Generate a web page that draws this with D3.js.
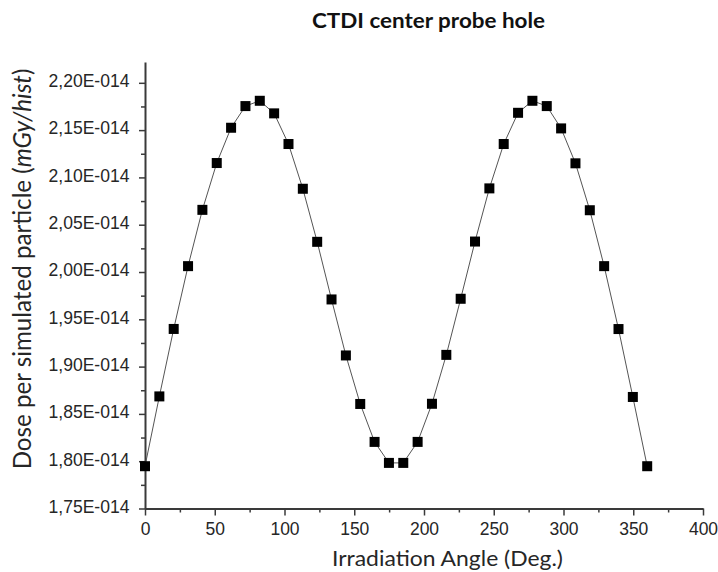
<!DOCTYPE html>
<html>
<head>
<meta charset="utf-8">
<script src="https://cdn.jsdelivr.net/npm/d3@7"></script>
<style>
  html, body { margin: 0; padding: 0; background: #fff; }
  svg { display: block; }
</style>
</head>
<body>
<svg id="chart" width="718" height="572"></svg>
<script>
// Irradiation angles (degrees) for the 36 simulated projections
const angles = [0, 10.29, 20.57, 30.86, 41.14, 51.43, 61.71, 72.00, 82.29, 92.57,
  102.86, 113.14, 123.43, 133.71, 144.00, 154.29, 164.57, 174.86, 185.14, 195.43,
  205.71, 216.00, 226.29, 236.57, 246.86, 257.14, 267.43, 277.71, 288.00, 298.29,
  308.57, 318.86, 329.14, 339.43, 349.71, 360];

// Dose per simulated particle at the CTDI center probe hole (mGy/hist)
const dose = [1.7947e-14, 1.8685e-14, 1.9398e-14, 2.0062e-14, 2.0657e-14, 2.1152e-14,
  2.1525e-14, 2.1754e-14, 2.1810e-14, 2.1677e-14, 2.1353e-14, 2.0880e-14, 2.0319e-14,
  1.9710e-14, 1.9118e-14, 1.8605e-14, 1.8204e-14, 1.7982e-14, 1.7982e-14, 1.8204e-14,
  1.8607e-14, 1.9124e-14, 1.9717e-14, 2.0322e-14, 2.0884e-14, 2.1353e-14, 2.1683e-14,
  2.1810e-14, 2.1754e-14, 2.1518e-14, 2.1149e-14, 2.0653e-14, 2.0062e-14, 1.9397e-14,
  1.8679e-14, 1.7947e-14];

// Axis ticks
const xTicks = [0, 50, 100, 150, 200, 250, 300, 350, 400];
const xMinorTicks = [25, 75, 125, 175, 225, 275, 325, 375];
const yTicks = [1.75e-14, 1.80e-14, 1.85e-14, 1.90e-14, 1.95e-14, 2.00e-14, 2.05e-14, 2.10e-14, 2.15e-14, 2.20e-14];
const yMinorTicks = [1.775e-14, 1.825e-14, 1.875e-14, 1.925e-14, 1.975e-14, 2.025e-14, 2.075e-14, 2.125e-14, 2.175e-14];

const titleText = "CTDI center probe hole";
const xTitleText = "Irradiation Angle (Deg.)";

const svg = d3.select("#chart");
const axisColor = "#3a3a3a";
const textColor = "#262626";

const x = d3.scaleLinear().domain([0, 400]).range([145, 703]);
const y = d3.scaleLinear().domain([1.75e-14, 2.222e-14]).range([508.5, 62]);

const fmt = d => (d / 1e-14).toFixed(2).replace(".", ",") + "E-014";

// Minor ticks
svg.append("g")
  .attr("transform", `translate(0,${y.range()[0]})`)
  .call(d3.axisBottom(x).tickValues(xMinorTicks).tickSize(4).tickFormat(""))
  .call(g => g.select(".domain").remove())
  .call(g => g.selectAll("line").attr("stroke", axisColor).attr("stroke-width", 1.5));

svg.append("g")
  .attr("transform", `translate(${x.range()[0]},0)`)
  .call(d3.axisLeft(y).tickValues(yMinorTicks).tickSize(4).tickFormat(""))
  .call(g => g.select(".domain").remove())
  .call(g => g.selectAll("line").attr("stroke", axisColor).attr("stroke-width", 1.5));

// Major x axis
const gx = svg.append("g")
  .attr("transform", `translate(0,${y.range()[0]})`)
  .call(d3.axisBottom(x).tickValues(xTicks).tickSize(7).tickPadding(7).tickSizeOuter(0).tickFormat(d3.format("d")));
gx.select(".domain").attr("stroke", axisColor).attr("stroke-width", 2);
gx.selectAll("line").attr("stroke", axisColor).attr("stroke-width", 1.5);
gx.selectAll("text")
  .attr("fill", textColor)
  .style("font-family", "'Liberation Sans', Arial, sans-serif")
  .style("font-size", "17.5px");

// Major y axis
const gy = svg.append("g")
  .attr("transform", `translate(${x.range()[0]},0)`)
  .call(d3.axisLeft(y).tickValues(yTicks).tickSize(6).tickPadding(9.5).tickSizeOuter(0).tickFormat(fmt));
gy.select(".domain").attr("stroke", axisColor).attr("stroke-width", 2);
gy.selectAll("line").attr("stroke", axisColor).attr("stroke-width", 1.5);
gy.selectAll("text")
  .attr("fill", textColor)
  .attr("dy", "0.2em")
  .style("font-family", "'Liberation Sans', Arial, sans-serif")
  .style("font-size", "19px")
  .attr("textLength", 81)
  .attr("lengthAdjust", "spacingAndGlyphs");

// Connecting line
const pts = angles.map((a, i) => [a, dose[i]]);
svg.append("path")
  .datum(pts)
  .attr("fill", "none")
  .attr("stroke", "#555")
  .attr("stroke-width", 1)
  .attr("d", d3.line().x(d => x(d[0])).y(d => y(d[1])));

// Square markers
const ms = 10;
svg.append("g")
  .selectAll("rect")
  .data(pts)
  .join("rect")
  .attr("x", d => x(d[0]) - ms / 2)
  .attr("y", d => y(d[1]) - ms / 2)
  .attr("width", ms)
  .attr("height", ms)
  .attr("fill", "#000");

// Chart title
svg.append("text")
  .attr("x", 428.5)
  .attr("y", 28)
  .attr("text-anchor", "middle")
  .attr("fill", "#111")
  .style("font-family", "Lato, 'Open Sans', sans-serif")
  .style("font-weight", "bold")
  .style("font-size", "21px")
  .attr("textLength", 233)
  .attr("lengthAdjust", "spacingAndGlyphs")
  .text(titleText);

// X axis title
svg.append("text")
  .attr("x", 447.5)
  .attr("y", 566)
  .attr("text-anchor", "middle")
  .attr("fill", textColor)
  .style("font-family", "Lato, 'Open Sans', sans-serif")
  .style("font-size", "21px")
  .attr("textLength", 231)
  .attr("lengthAdjust", "spacingAndGlyphs")
  .text(xTitleText);

// Y axis title, with the unit in italics
const yt = svg.append("text")
  .attr("transform", "translate(31,269) rotate(-90)")
  .attr("text-anchor", "middle")
  .attr("fill", textColor)
  .style("font-family", "Lato, 'Open Sans', sans-serif")
  .style("font-size", "20px");
yt.append("tspan").text("Dose per simulated particle (");
yt.append("tspan").style("font-style", "italic").text("mGy/hist");
yt.append("tspan").text(")");
const natural = yt.node().getComputedTextLength();
yt.style("font-size", (20 * 401 / natural).toFixed(2) + "px");
</script>
</body>
</html>
